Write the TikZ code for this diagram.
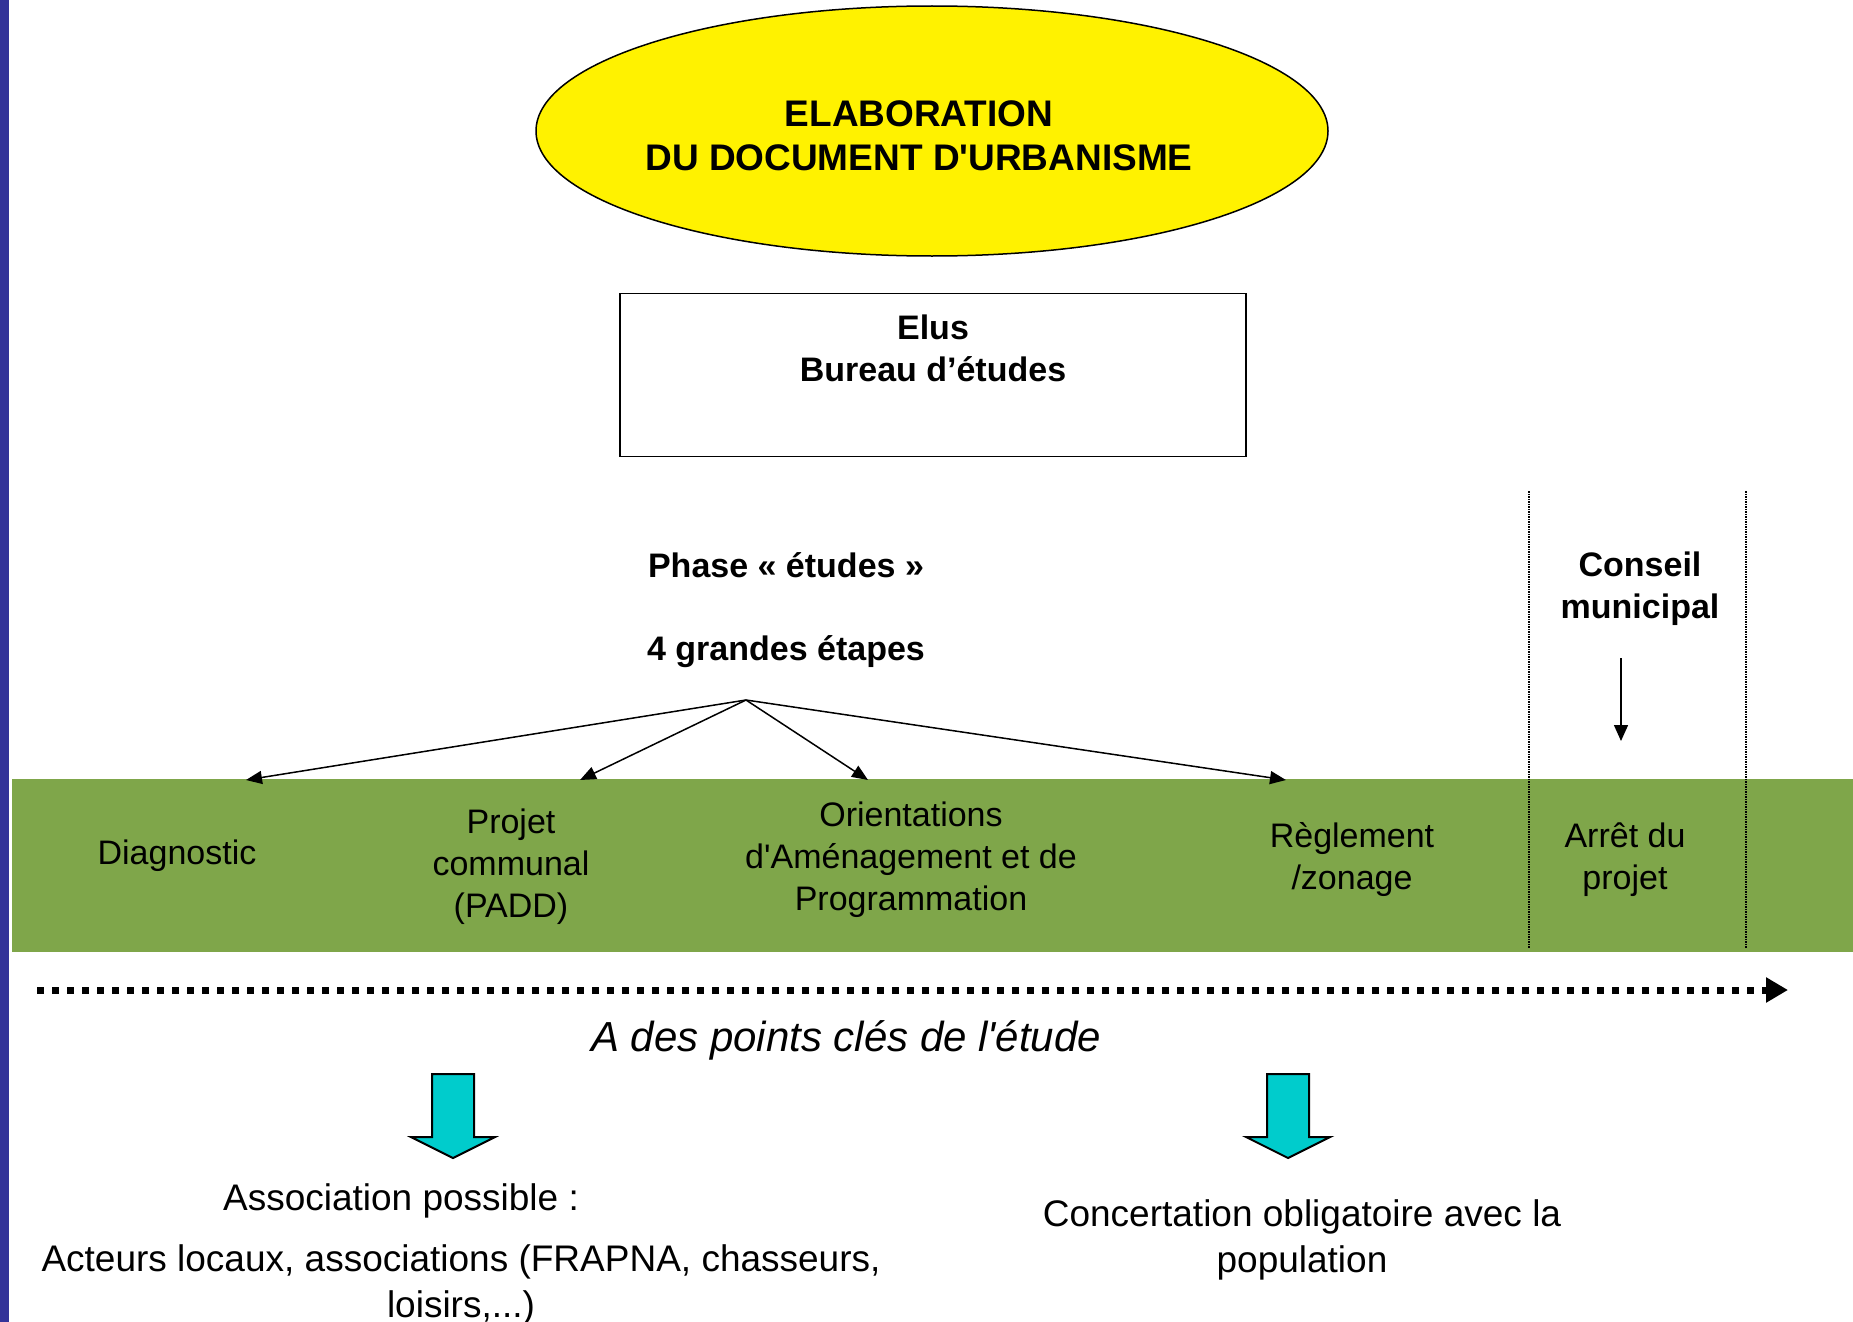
\documentclass[tikz,border=0pt]{standalone}
\usepackage{fontspec}
\setmainfont{Liberation Sans}
\usetikzlibrary{arrows.meta,shapes.geometric}

\definecolor{bandgreen}{RGB}{127,166,74}
\definecolor{sidebar}{RGB}{51,51,153}
\definecolor{arrowcyan}{RGB}{0,204,204}

\begin{document}
\begin{tikzpicture}[x=1pt, y=-1pt, line width=1.5pt,
    bigbold/.style={font=\fontsize{37}{44}\selectfont\bfseries, align=center},
    midbold/.style={font=\fontsize{34}{42}\selectfont\bfseries, align=center},
    stage/.style={font=\fontsize{34}{42}\selectfont, align=center},
    note/.style={font=\fontsize{37}{46}\selectfont, align=center},
    stagearrow/.style={-{Triangle[length=16pt,width=13pt]}},
    cyanarrow/.style={fill=arrowcyan, draw=black, line width=2pt}]
    \useasboundingbox (0,0) rectangle (1853,1322);

    % side bar and band
    \fill[sidebar] (0,0) rectangle (9,1322);
    \fill[bandgreen] (12,779) rectangle (1853,952);

    % title
    \node[ellipse, draw, fill=yellow, minimum width=792pt, minimum height=250pt] (title) at (932,131) {};
    \node[bigbold] (titletext) at (919,136) {ELABORATION\\DU DOCUMENT D\textquotesingle URBANISME};
    \node[draw, minimum width=626pt, minimum height=163pt, midbold] (elus) at (933,375)
        {Elus\\Bureau d’études\\[12pt]~};

    % phase
    \node[midbold] (phase) at (786,610) {Phase «~études~»\\[41pt]4 grandes étapes};
    \coordinate (fork) at (746,700);
    \coordinate (tipdiag) at (246,780);
    \coordinate (tippadd) at (580,780);
    \coordinate (tiporient) at (868,780);
    \coordinate (tipregl) at (1286,780);
    \draw[stagearrow] (fork) -- (tipdiag);
    \draw[stagearrow] (fork) -- (tippadd);
    \draw[stagearrow] (fork) -- (tiporient);
    \draw[stagearrow] (fork) -- (tipregl);

    % conseil municipal
    \draw[densely dotted] (1529,491) -- (1529,948);
    \draw[densely dotted] (1746,491) -- (1746,948);
    \node[midbold] (conseil) at (1640,589) {Conseil\\municipal};
    \coordinate (cmtop) at (1621,658);
    \coordinate (cmbot) at (1621,741);
    \draw[-{Triangle[length=16pt,width=14pt]}] (cmtop) -- (cmbot);

    % stages
    \node[stage] (diag) at (177,856) {Diagnostic};
    \node[stage] (padd) at (511,867) {Projet\\communal\\(PADD)};
    \node[stage] (orient) at (911,860) {Orientations\\d\textquotesingle Aménagement et de\\Programmation};
    \node[stage] (regl) at (1352,860) {Règlement\\/zonage};
    \node[stage] (arret) at (1625,860) {Arrêt du\\projet};

    % time line
    \coordinate (linestart) at (37,990);
    \coordinate (lineend) at (1788,990);
    \draw[line width=7pt, dash pattern=on 7pt off 8pt, -{Triangle[length=22pt,width=24pt]}] (linestart) -- (lineend);
    \node[font=\fontsize{42}{50}\selectfont\itshape] (keypoints) at (846,1040) {A des points clés de l\textquotesingle étude};

    % down arrows
    \foreach \cx in {453,1288}
        \filldraw[cyanarrow] (\cx-21,1074) -- (\cx+21,1074) -- (\cx+21,1137) -- (\cx+42,1137)
            -- (\cx,1158) -- (\cx-42,1137) -- (\cx-21,1137) -- cycle;

    % bottom notes
    \node[note] (assoc) at (401,1201) {Association possible :};
    \node[note] (acteurs) at (461,1285) {Acteurs locaux, associations (FRAPNA, chasseurs,\\loisirs,...)};
    \node[note] (concert) at (1302,1240) {Concertation obligatoire avec la\\population};
\end{tikzpicture}
\end{document}
